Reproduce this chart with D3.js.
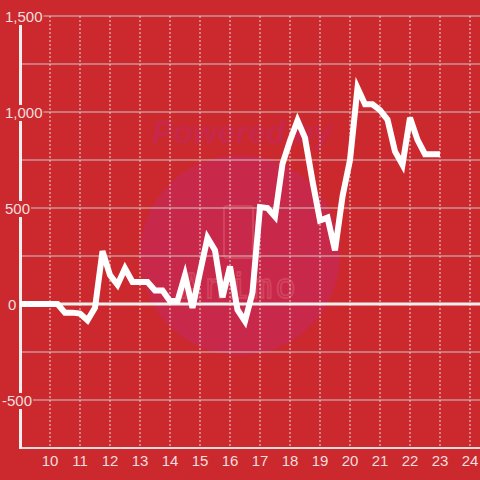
<!DOCTYPE html>
<html><head><meta charset="utf-8">
<script src="https://cdn.jsdelivr.net/npm/d3@7"></script>
<style>html,body{margin:0;padding:0;background:#cc292e;}svg{display:block;}</style>
</head><body>
<script>
const xValues = [9,9.25,9.5,9.75,10,10.25,10.5,10.75,11,11.25,11.5,11.75,12,12.25,12.5,12.75,13,13.25,13.5,13.75,14,14.25,14.5,14.75,15,15.25,15.5,15.75,16,16.25,16.5,16.75,17,17.25,17.5,17.75,18,18.25,18.5,18.75,19,19.25,19.5,19.75,20,20.25,20.5,20.75,21,21.25,21.5,21.75,22,22.25,22.5,22.75,23];
const yValues = [0,0,0,0,0,0,-45,-45,-50,-85,-20,275,150,100,185,115,115,115,70,70,15,15,150,-20,165,345,280,35,195,-30,-90,60,505,500,455,730,850,955,865,640,435,450,280,560,750,1125,1040,1040,1010,960,795,725,970,855,780,780,780];
const xTicks = [10,11,12,13,14,15,16,17,18,19,20,21,22,23,24];
const yGrid = [-500,-250,250,500,750,1000,1250,1500];
const yTickLabels = [1500,1000,500,0,-500];

const W = 480, H = 480;
const bg = "#cc292e";
const svg = d3.select("body").append("svg").attr("width", W).attr("height", H);
svg.append("rect").attr("width", W).attr("height", H).attr("fill", bg);

const x = d3.scaleLinear().domain([9, 24]).range([20, 470]);
const y = d3.scaleLinear().domain([-750, 1500]).range([448, 16]);

// watermark
const wm = svg.append("g");
wm.append("circle").attr("cx", 240).attr("cy", 255).attr("r", 100).attr("fill", "#c8284a");
wm.append("text").attr("x", 242).attr("y", 143).attr("text-anchor", "middle")
  .attr("font-family", "Liberation Sans, Arial, sans-serif").attr("font-weight", "bold")
  .attr("font-style", "italic").attr("font-size", 32).attr("fill", "#c7284a").text("Powered by");
wm.append("rect").attr("x", 224).attr("y", 206).attr("width", 29).attr("height", 52).attr("rx", 3)
  .attr("fill", "none").attr("stroke", "#d9566a").attr("stroke-width", 2).attr("opacity", 0.6);
wm.append("text").attr("x", 240).attr("y", 298).attr("text-anchor", "middle")
  .attr("font-family", "DejaVu Sans Mono, monospace").attr("font-size", 34).attr("letter-spacing", 3)
  .attr("fill", "none").attr("stroke", "#d9566a").attr("stroke-width", 1.8).attr("opacity", 0.6).text("Animo");

// vertical dotted grid
svg.append("g").selectAll("line").data(xTicks).join("line")
  .attr("x1", d => x(d)).attr("x2", d => x(d)).attr("y1", y(1500)).attr("y2", y(-750))
  .attr("stroke", "#e6d6d6").attr("stroke-width", 1).attr("stroke-dasharray", "2,2");

// horizontal grid
svg.append("g").selectAll("line").data(yGrid).join("line")
  .attr("x1", 20).attr("x2", W).attr("y1", d => y(d)).attr("y2", d => y(d))
  .attr("stroke", "#d2c8c8").attr("stroke-width", 1.2);

// zero line
svg.append("line").attr("x1", 20).attr("x2", W).attr("y1", y(0)).attr("y2", y(0))
  .attr("stroke", "#f4f0f0").attr("stroke-width", 3);

// bottom axis
svg.append("line").attr("x1", 20).attr("x2", W).attr("y1", y(-750)).attr("y2", y(-750))
  .attr("stroke", "#e4dcdc").attr("stroke-width", 2);
// left axis
svg.append("line").attr("x1", 20.5).attr("x2", 20.5).attr("y1", y(1500)).attr("y2", y(-750) + 1)
  .attr("stroke", "#f2eeee").attr("stroke-width", 3);

// data line
const line = d3.line().x((d, i) => x(xValues[i])).y(d => y(d));
svg.append("path").datum(yValues).attr("d", line).attr("fill", "none")
  .attr("stroke", "#ffffff").attr("stroke-width", 6).attr("stroke-linejoin", "miter");

// x labels
svg.append("g").selectAll("text").data(xTicks).join("text")
  .attr("x", d => x(d)).attr("y", 466).attr("text-anchor", "middle")
  .attr("font-family", "Liberation Sans, Arial, sans-serif").attr("font-size", 15)
  .attr("fill", "#f3dede").text(d => d);

// y labels with background masks
const fmt = v => d3.format(",")(v).replace("\u2212", "-");
const yl = svg.append("g").selectAll("g").data(yTickLabels).join("g");
yl.each(function(d) {
  const g = d3.select(this);
  const t = g.append("text").attr("x", d < 0 ? 2 : (d === 0 ? 8 : 5)).attr("y", y(d) + 6)
    .attr("font-family", "Liberation Sans, Arial, sans-serif").attr("font-size", 15)
    .attr("fill", "#f3dede").text(fmt(d));
  const bb = t.node().getBBox();
  g.insert("rect", "text").attr("x", bb.x - 1).attr("y", bb.y + 1).attr("width", bb.width + 2)
    .attr("height", bb.height - 1).attr("fill", bg);
});
</script>
</body></html>
